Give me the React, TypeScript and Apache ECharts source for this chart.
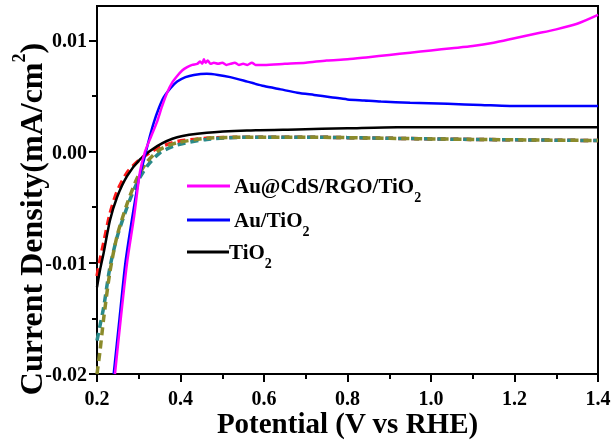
import React, { useEffect, useRef } from "react";
import * as echarts from "echarts";

const FONT = "Liberation Serif";

// Au@CdS/RGO/TiO2 (magenta)
const magX = [0.243, 0.257, 0.272, 0.289, 0.303, 0.315, 0.330, 0.344, 0.356, 0.368, 0.380, 0.392, 0.404, 0.416, 0.428, 0.440, 0.447, 0.452, 0.456, 0.460, 0.465, 0.472, 0.480, 0.490, 0.500, 0.510, 0.520, 0.530, 0.540, 0.550, 0.560, 0.571, 0.580, 0.600, 0.650, 0.700, 0.750, 0.800, 0.850, 0.900, 0.950, 1.000, 1.050, 1.100, 1.150, 1.200, 1.250, 1.300, 1.350, 1.400];
const magY = [-0.0200, -0.0150, -0.0100, -0.0058, -0.0018, 0.0000, 0.0014, 0.0027, 0.0041, 0.0053, 0.0062, 0.0068, 0.0073, 0.0076, 0.0078, 0.0079, 0.0081, 0.0079, 0.0083, 0.0080, 0.0082, 0.0079, 0.0080, 0.0079, 0.0080, 0.0078, 0.0079, 0.0080, 0.0078, 0.0079, 0.0078, 0.0080, 0.0078, 0.0078, 0.0079, 0.0080, 0.0082, 0.0083, 0.0085, 0.0087, 0.0089, 0.0091, 0.0093, 0.0095, 0.0098, 0.0102, 0.0106, 0.0110, 0.0115, 0.0123];

// Au/TiO2 (blue)
const bluX = [0.240, 0.254, 0.268, 0.285, 0.300, 0.312, 0.324, 0.336, 0.348, 0.360, 0.376, 0.392, 0.412, 0.432, 0.463, 0.490, 0.519, 0.560, 0.600, 0.640, 0.680, 0.720, 0.760, 0.800, 0.840, 0.880, 0.950, 1.040, 1.120, 1.200, 1.300, 1.400];
const bluY = [-0.0200, -0.0150, -0.0100, -0.0058, -0.0025, -0.0008, 0.0010, 0.0026, 0.0039, 0.0049, 0.0057, 0.0063, 0.0067, 0.0069, 0.0070, 0.0069, 0.0067, 0.0063, 0.0059, 0.0056, 0.0053, 0.0051, 0.0049, 0.0047, 0.0046, 0.0045, 0.0044, 0.0043, 0.0042, 0.0041, 0.0041, 0.0041];

// TiO2 (black)
const blkX = [0.200, 0.208, 0.216, 0.231, 0.248, 0.272, 0.303, 0.344, 0.392, 0.463, 0.559, 0.679, 0.800, 0.919, 1.100, 1.400];
const blkY = [-0.0122, -0.0105, -0.0091, -0.0062, -0.0041, -0.0022, -0.0007, 0.0005, 0.0013, 0.0017, 0.0019, 0.0020, 0.0021, 0.0022, 0.0022, 0.0022];

// dashed curves
const redX = [0.200, 0.208, 0.216, 0.231, 0.248, 0.272, 0.303, 0.344, 0.392, 0.463, 0.560, 0.700, 0.900, 1.100, 1.400];
const redY = [-0.0112, -0.0096, -0.0082, -0.0056, -0.0036, -0.0019, -0.0007, 0.0003, 0.0009, 0.0012, 0.0013, 0.0013, 0.0012, 0.0011, 0.0010];

const tealX = [0.200, 0.208, 0.216, 0.231, 0.248, 0.272, 0.296, 0.320, 0.351, 0.392, 0.463, 0.560, 0.700, 0.900, 1.100, 1.400];
const tealY = [-0.0170, -0.0155, -0.0140, -0.0104, -0.0077, -0.0050, -0.0028, -0.0013, -0.0001, 0.0006, 0.0011, 0.0013, 0.0013, 0.0012, 0.0011, 0.0010];

const oliveX = [0.200, 0.207, 0.216, 0.231, 0.248, 0.272, 0.296, 0.320, 0.351, 0.392, 0.463, 0.560, 0.700, 0.900, 1.100, 1.400];
const oliveY = [-0.0200, -0.0180, -0.0150, -0.0108, -0.0076, -0.0047, -0.0024, -0.0009, 0.0002, 0.0008, 0.0012, 0.0013, 0.0013, 0.0012, 0.0011, 0.0010];

const yTickValues = [-0.02, -0.01, 0, 0.01];
const xTickValues = [0.2, 0.4, 0.6, 0.8, 1.0, 1.2, 1.4];

const legendNames = ["Au@CdS/RGO/TiO", "Au/TiO", "TiO"];
const legendColors = ["#ff00ff", "#0000ff", "#000000"];

const pairs = (xs: number[], ys: number[]) => xs.map((x, i) => [x, ys[i]]);

export default function App() {
  const ref = useRef<HTMLDivElement>(null);
  useEffect(() => {
    if (!ref.current) return;
    const chart = echarts.init(ref.current, null, { renderer: "svg" });

    const subRich = {
      n: { fontSize: 21, fontWeight: "bold", fontFamily: FONT, fill: "#000", lineHeight: 36 },
      s: { fontSize: 14, fontWeight: "bold", fontFamily: FONT, fill: "#000", lineHeight: 13, verticalAlign: "bottom" },
    };
    const legendRows = [
      { y: 186, lineX1: 187, lineX2: 230, textX: 234 },
      { y: 220, lineX1: 187, lineX2: 230, textX: 234 },
      { y: 252, lineX1: 187, lineX2: 229, textX: 229 },
    ];
    const legendGraphics: any[] = [];
    legendRows.forEach((r, i) => {
      legendGraphics.push({
        type: "line",
        shape: { x1: r.lineX1, y1: r.y, x2: r.lineX2, y2: r.y },
        style: { stroke: legendColors[i], lineWidth: 3 },
      });
      legendGraphics.push({
        type: "text",
        x: r.textX,
        y: r.y,
        style: {
          text: `{n|${legendNames[i]}}{s|2}`,
          rich: subRich,
          align: "left",
          verticalAlign: "middle",
        },
      });
    });

    const lineSeries = (name: string, xs: number[], ys: number[], color: string, width: number, dash?: any) => ({
      type: "line",
      name,
      data: pairs(xs, ys),
      showSymbol: false,
      symbol: "none",
      smooth: 0.25,
      lineStyle: { color, width, type: dash || "solid" },
      z: 3,
    });

    chart.setOption({
      animation: false,
      grid: { left: 97, right: 17, top: 6, bottom: 71, show: true, borderColor: "#000", borderWidth: 2, backgroundColor: "transparent" },
      xAxis: {
        type: "value",
        min: 0.2,
        max: 1.4,
        interval: 0.2,
        name: "Potential (V vs RHE)",
        nameLocation: "middle",
        nameGap: 49,
        nameMoveOverlap: false,
        nameTextStyle: { fontFamily: FONT, fontWeight: "bold", fontSize: 29, lineHeight: 26, color: "#000", verticalAlign: "middle" },
        axisLine: { show: true, onZero: false, lineStyle: { color: "#000", width: 2 } },
        axisTick: { show: true, inside: false, length: 8, lineStyle: { color: "#000", width: 2 } },
        minorTick: { show: true, splitNumber: 2, length: 5, lineStyle: { color: "#000", width: 2 } },
        splitLine: { show: false },
        minorSplitLine: { show: false },
        axisLabel: {
          customValues: xTickValues,
          formatter: (v: number) => v.toFixed(1),
          fontFamily: FONT,
          fontWeight: "bold",
          fontSize: 20,
          lineHeight: 20,
          color: "#000",
          margin: 14,
        },
      },
      yAxis: {
        type: "value",
        min: -0.02,
        max: 0.0131,
        interval: 0.01,
        axisLine: { show: true, onZero: false, lineStyle: { color: "#000", width: 2 } },
        axisTick: { show: true, inside: false, customValues: yTickValues, length: 8, lineStyle: { color: "#000", width: 2 } },
        minorTick: { show: true, splitNumber: 2, length: 5, lineStyle: { color: "#000", width: 2 } },
        splitLine: { show: false },
        minorSplitLine: { show: false },
        axisLabel: {
          customValues: yTickValues,
          formatter: (v: number) => v.toFixed(2),
          fontFamily: FONT,
          fontWeight: "bold",
          fontSize: 20,
          color: "#000",
          margin: 10,
        },
      },
      graphic: [
        {
          type: "text",
          x: 31,
          y: 219,
          rotation: Math.PI / 2,
          style: {
            text: "{n|Current Density(mA/cm}{p|2}{n|)}",
            align: "center",
            verticalAlign: "middle",
            rich: {
              n: { fontSize: 32, fontWeight: "bold", fontFamily: FONT, fill: "#000", lineHeight: 42 },
              p: { fontSize: 18, fontWeight: "bold", fontFamily: FONT, fill: "#000", lineHeight: 18, verticalAlign: "top" },
            },
          },
        },
        ...legendGraphics,
      ],
      series: [
        lineSeries("dashed-red", redX, redY, "#ff1a1a", 3.5, [8, 5]),
        lineSeries("dashed-teal", tealX, tealY, "#2a8a8a", 3.5, [8, 5]),
        lineSeries("dashed-olive", oliveX, oliveY, "#8b8b2b", 3.5, [8, 5]),
        lineSeries("TiO2", blkX, blkY, "#000000", 2.5),
        lineSeries("Au/TiO2", bluX, bluY, "#0000ff", 2.5),
        lineSeries("Au@CdS/RGO/TiO2", magX, magY, "#ff00ff", 2.5),
      ],
    });
    return () => chart.dispose();
  }, []);
  return <div ref={ref} style={{ position: "fixed", left: 0, top: 0, width: 615, height: 445 }} />;
}
